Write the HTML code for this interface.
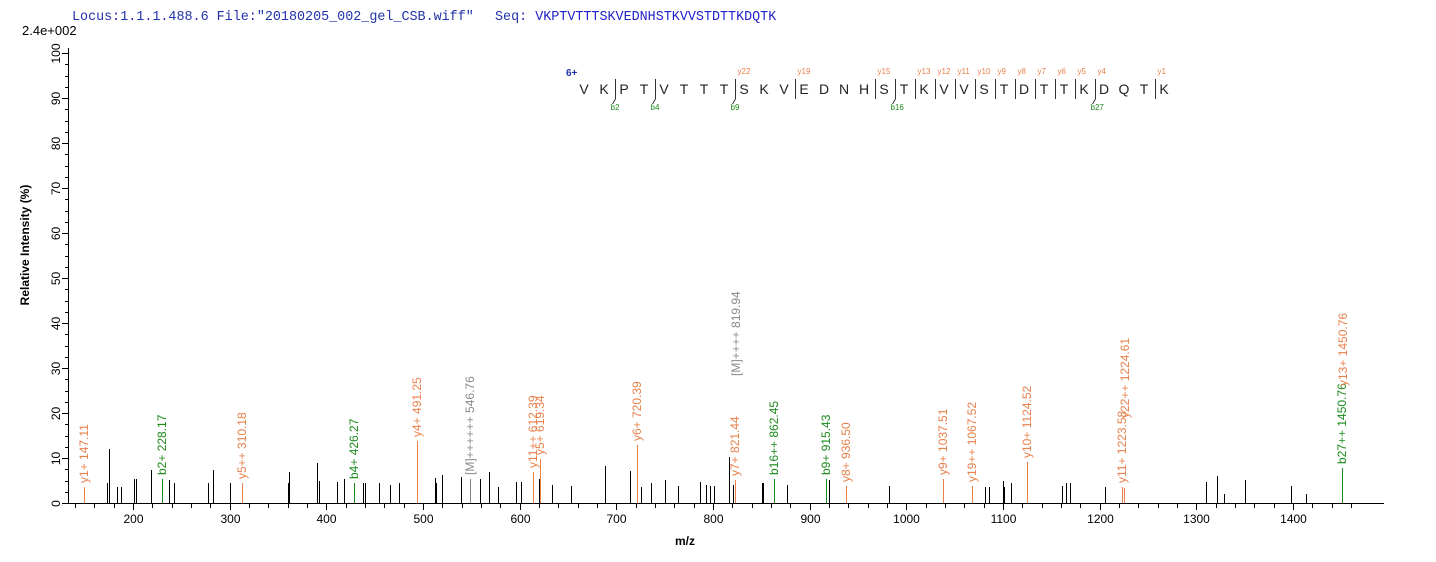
<!DOCTYPE html><html><head><style>body{margin:0;background:#fff}svg{display:block;font-family:"Liberation Sans",Arial,sans-serif}</style></head><body>
<svg width="1436" height="562" viewBox="0 0 1436 562">
<text x="72" y="20" font-family="Liberation Mono,monospace" font-size="13.4" fill="#2233aa">Locus:1.1.1.488.6 File:"20180205_002_gel_CSB.wiff"</text>
<text x="495" y="20" font-family="Liberation Mono,monospace" font-size="13.4" fill="#2233aa">Seq: <tspan fill="#2222cc">VKPTVTTTSKVEDNHSTKVVSTDTTKDQTK</tspan></text>
<text x="22" y="35" font-size="13">2.4e+002</text>
<g stroke="#000" stroke-width="1">
<line x1="68.5" y1="48" x2="68.5" y2="503"/><line x1="68" y1="503.5" x2="1384" y2="503.5"/>
</g>
<g id="yt" font-size="12" stroke="#000"></g>
<g id="xt" font-size="12"></g>
<text transform="translate(29,245) rotate(-90)" text-anchor="middle" font-size="12" font-weight="bold">Relative   Intensity (%)</text>
<text x="685" y="545" text-anchor="middle" font-size="12" font-weight="bold">m/z</text>
<g id="pk"></g>
<g id="seq" font-size="14" fill="#222"></g>
<text x="566" y="76" font-size="10" font-weight="bold" fill="#2233aa">6+</text>
</svg>
<script>
var NS="http://www.w3.org/2000/svg";
function el(p,t,a,tx){var e=document.createElementNS(NS,t);for(var k in a)e.setAttribute(k,a[k]);if(tx)e.textContent=tx;document.getElementById(p).appendChild(e);return e;}
function R(x){return Math.round(x)+0.5;}
for(var v=0;v<=100;v+=2.5){var y=R(503-v*4.5);el("yt","line",{x1:v%10==0?62:65,x2:68,y1:y,y2:y});if(v%10==0){el("yt","text",{transform:"translate(60,"+y+") rotate(-90)","text-anchor":"middle",stroke:"none"},String(v));}}
function X(m){return 133+(m-200)*0.9667;}
for(var m=140;m<=1460;m+=20){var x=R(X(m));el("xt","line",{x1:x,x2:x,y1:503,y2:m%100==0?510:508,stroke:"#000"});if(m%100==0&&m>=200&&m<=1400)el("xt","text",{x:x,y:523,"text-anchor":"middle"},String(m));}
var blk=[[107,483],[109,449],[117,487],[121,487],[134,479],[136,479],[151,470],[169,480],[174,483],[208,483],[213,470],[230,483],[288,483],[289,472],[317,463],[319,481],[337,482],[344,479],[363,483],[365,483],[379,483],[390,485],[399,483],[435,478],[436,483],[442,475],[461,477],[480,479],[489,472],[498,487],[516,482],[521,482],[539,479],[552,485],[571,486],[605,466],[630,471],[641,487],[651,483],[665,480],[678,486],[700,482],[706,485],[710,486],[714,486],[729,457],[733,485],[762,483],[763,483],[787,485],[829,480],[889,486],[985,487],[989,487],[1003,481],[1004,487],[1011,483],[1062,486],[1066,483],[1070,483],[1105,487],[1206,482],[1217,476],[1224,494],[1245,480],[1291,486],[1306,494]];
blk.forEach(function(p){el("pk","line",{x1:R(p[0]),x2:R(p[0]),y1:503,y2:p[1],stroke:"#000"});});
var O="#e8804a",G="#1a8a1a",Gr="#888";
var col=[[84,487,O,"y1+ 147.11"],[162,479,G,"b2+ 228.17"],[242,483,O,"y5++ 310.18"],[354,483,G,"b4+ 426.27"],[417,441,O,"y4+ 491.25"],[470,479,Gr,"[M]++++++ 546.76"],[533,472,O,"y11++ 612.39"],[540,459,O,"y5+ 619.34"],[637,445,O,"y6+ 720.39"],[735,480,O,"y7+ 821.44"],[774,479,G,"b16++ 862.45"],[826,479,G,"b9+ 915.43"],[846,486,O,"y8+ 936.50"],[943,479,O,"y9+ 1037.51"],[972,486,O,"y19++ 1067.52"],[1027,462,O,"y10+ 1124.52"],[1122,487,O,"y11+ 1223.58"],[1342,468,G,"b27++ 1450.76"]];
col.forEach(function(p){el("pk","line",{x1:R(p[0]),x2:R(p[0]),y1:503,y2:p[1],stroke:p[2]});el("pk","text",{transform:"translate("+(p[0]+4)+","+(p[1]-4)+") rotate(-90)","font-size":"12",fill:p[2]},p[3]);});
el("pk","line",{x1:1124.5,x2:1124.5,y1:503,y2:488,stroke:O});
el("pk","text",{transform:"translate(1129,418) rotate(-90)","font-size":"12",fill:O},"y22++ 1224.61");
el("pk","text",{transform:"translate(740,376) rotate(-90)","font-size":"12",fill:Gr},"[M]++++ 819.94");
el("pk","text",{transform:"translate(1347,386) rotate(-90)","font-size":"12",fill:O},"y13+ 1450.76");
var s="VKPTVTTTSKVEDNHSTKVVSTDTTKDQTK";
for(var i=0;i<s.length;i++){el("seq","text",{x:584+i*20,y:94,"text-anchor":"middle"},s[i]);}
var ys={8:"y22",11:"y19",15:"y15",17:"y13",18:"y12",19:"y11",20:"y10",21:"y9",22:"y8",23:"y7",24:"y6",25:"y5",26:"y4",29:"y1"};
var bs={2:"b2",4:"b4",8:"b9",16:"b16",26:"b27"};
for(var k in ys){var x=R(584+k*20-9);el("seq","line",{x1:x,x2:x,y1:79,y2:99,stroke:"#333"});el("seq","text",{x:x+2,y:74,"font-size":"8",fill:O},ys[k]);}
for(var k in bs){var x=R(584+k*20-9);el("seq","line",{x1:x,x2:x,y1:79,y2:99,stroke:"#333"});el("seq","line",{x1:x,x2:x-3,y1:99,y2:104,stroke:"#333"});el("seq","text",{x:x-5,y:110,"font-size":"8",fill:G},bs[k]);}
</script>
</body></html>
